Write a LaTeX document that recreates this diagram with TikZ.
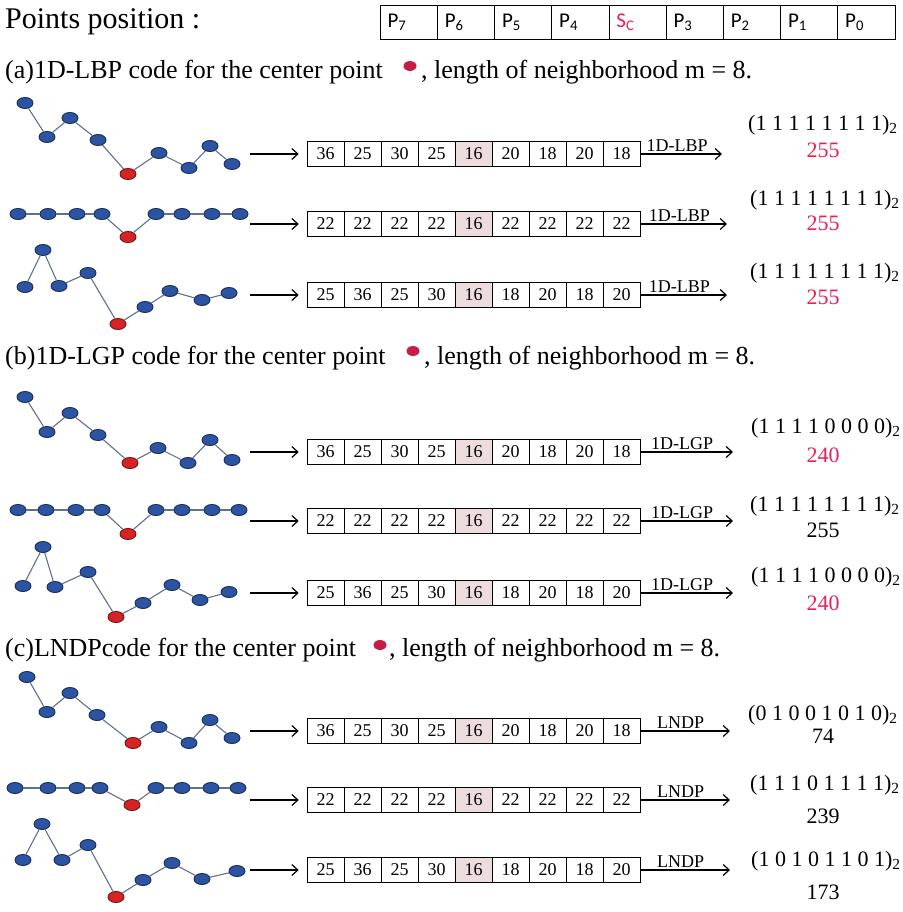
\documentclass[tikz,border=0pt]{standalone}
\usepackage{fontspec}
\setmainfont{Liberation Serif}
\newfontfamily\pfont{Carlito}
\usetikzlibrary{arrows.meta,positioning,shapes.geometric}

\definecolor{ptblue}{RGB}{44,84,162}
\definecolor{ptred}{RGB}{214,36,36}
\definecolor{codered}{RGB}{232,32,90}
\definecolor{dotred}{RGB}{196,30,72}
\definecolor{cellpink}{RGB}{236,220,222}
\definecolor{linkgray}{RGB}{96,112,140}

\begin{document}
\begin{tikzpicture}[x=1pt,y=-1pt,>={Straight Barb[length=6pt,width=11pt]},
  pt/.style={ellipse,line width=0.9pt,minimum width=16pt,minimum height=11pt,inner sep=0pt},
  link/.style={draw=linkgray,line width=1.1pt},
  cell/.style={draw,line width=0.6pt,minimum width=37pt,minimum height=25pt,inner sep=0pt,font=\fontsize{18}{18}\selectfont},
  hcell/.style={draw,line width=0.6pt,minimum height=34pt,text width=42pt,inner xsep=7.6pt,inner ysep=0pt,align=left,font=\pfont\fontsize{21}{21}\selectfont},
  ttl/.style={anchor=base west,inner sep=0pt,font=\fontsize{26}{26}\selectfont},
  hdot/.style={ellipse,fill=dotred,minimum width=13pt,minimum height=10pt,inner sep=0pt},
  res/.style={inner sep=0pt,font=\fontsize{22}{22}\selectfont},
  oplab/.style={above,inner sep=2pt,font=\fontsize{18}{18}\selectfont},
  flow/.style={->,line width=1.2pt}]
\useasboundingbox (0,0) rectangle (902,912);

% header
\node[anchor=base west,inner sep=0pt,font=\fontsize{30}{30}\selectfont] (hdr) at (5,29) {Points position :};
\foreach \lab [count=\i] in {P\textsubscript{7},P\textsubscript{6},P\textsubscript{5},P\textsubscript{4},{\color{codered}S\textsubscript{C}},P\textsubscript{3},P\textsubscript{2},P\textsubscript{1},P\textsubscript{0}}
  \node[hcell] (h\i) at ({380+57.2*(\i-0.5)},22) {\lab};

% section titles
\node[ttl] (ta) at (5,79) {(a)1D-LBP code for the center point};
\node[hdot] (ta-dot) at (410,66) {};
\node[ttl] (ta-rest) at (421,79) {, length of neighborhood m = 8.};
\node[ttl] (tb) at (5,364) {(b)1D-LGP code for the center point};
\node[hdot] (tb-dot) at (413,351) {};
\node[ttl] (tb-rest) at (424,364) {, length of neighborhood m = 8.};
\node[ttl] (tc) at (5,656) {(c)LNDPcode for the center point};
\node[hdot] (tc-dot) at (380,645) {};
\node[ttl] (tc-rest) at (389,656) {, length of neighborhood m = 8.};

% signals
\foreach \r/\pts in {
  a1/{25/103/ptblue,47/137/ptblue,70/118/ptblue,98/140/ptblue,128/174/ptred,159/153/ptblue,189/168/ptblue,210/146/ptblue,232/164/ptblue},
  a2/{18/214/ptblue,48/214/ptblue,77/214/ptblue,102/214/ptblue,128/237/ptred,156/214/ptblue,182/214/ptblue,212/214/ptblue,240/214/ptblue},
  a3/{25/287/ptblue,43/250/ptblue,59/286/ptblue,88/273/ptblue,118/324/ptred,145/307/ptblue,170/291/ptblue,202/300/ptblue,229/293/ptblue},
  b1/{25/397/ptblue,47/432/ptblue,70/413/ptblue,98/435/ptblue,130/463/ptred,158/448/ptblue,188/463/ptblue,210/440/ptblue,232/460/ptblue},
  b2/{18/510/ptblue,46/510/ptblue,76/510/ptblue,102/510/ptblue,128/534/ptred,156/510/ptblue,182/510/ptblue,212/510/ptblue,239/510/ptblue},
  b3/{23/586/ptblue,43/547/ptblue,55/587/ptblue,88/572/ptblue,116/617/ptred,143/603/ptblue,172/585/ptblue,200/600/ptblue,229/592/ptblue},
  c1/{27/677/ptblue,47/712/ptblue,70/693/ptblue,97/715/ptblue,133/743/ptred,159/727/ptblue,189/743/ptblue,210/720/ptblue,232/738/ptblue},
  c2/{15/788/ptblue,48/788/ptblue,77/788/ptblue,100/788/ptblue,132/805/ptred,156/788/ptblue,182/788/ptblue,211/788/ptblue,238/788/ptblue},
  c3/{23/860/ptblue,42/824/ptblue,62/860/ptblue,88/845/ptblue,116/897/ptred,143/880/ptblue,172/863/ptblue,202/879/ptblue,237/871/ptblue}}
{
  \foreach \x/\y/\c [count=\i] in \pts
    \node[pt,fill=\c,draw=\c!55!black] (\r-p\i) at (\x,\y) {};
  \foreach \i [count=\j from 2] in {1,...,8}
    \draw[link] (\r-p\i) -- (\r-p\j);
}

% value rows
\foreach \r/\yb/\vals/\op/\xe in {
  a1/154/{36,25,30,25,16,20,18,20,18}/1D-LBP/722,
  a2/224/{22,22,22,22,16,22,22,22,22}/1D-LBP/727,
  a3/295/{25,36,25,30,16,18,20,18,20}/1D-LBP/727,
  b1/452/{36,25,30,25,16,20,18,20,18}/1D-LGP/733,
  b2/521/{22,22,22,22,16,22,22,22,22}/1D-LGP/733,
  b3/593/{25,36,25,30,16,18,20,18,20}/1D-LGP/733,
  c1/731/{36,25,30,25,16,20,18,20,18}/LNDP/730,
  c2/800/{22,22,22,22,16,22,22,22,22}/LNDP/730,
  c3/870/{25,36,25,30,16,18,20,18,20}/LNDP/730}
{
  \foreach \v [count=\i] in \vals {
    \pgfmathtruncatemacro\pk{ifthenelse(\i==5,100,0)}
    \node[cell,fill=cellpink!\pk!white] (\r-c\i) at ({307+37*(\i-0.5)},\yb) {\v};
  }
  \coordinate (\r-in) at (250,\yb);
  \coordinate (\r-out) at (\xe,\yb);
  \draw[flow,shorten >=8pt] (\r-in) -- (\r-c1);
  \draw[flow] (\r-c9) -- node[oplab,pos=0.45] {\op} (\r-out);
}

% codes
\foreach \r/\xr/\yr/\code/\yv/\num/\col in {
  a1/748/125/{(1 1 1 1 1 1 1 1)}/150/255/codered,
  a2/750/200/{(1 1 1 1 1 1 1 1)}/223/255/codered,
  a3/750/273/{(1 1 1 1 1 1 1 1)}/297/255/codered,
  b1/751/428/{(1 1 1 1 0 0 0 0)}/455/240/codered,
  b2/750/506/{(1 1 1 1 1 1 1 1)}/530/255/black,
  b3/751/577/{(1 1 1 1 0 0 0 0)}/603/240/codered,
  c1/748/715/{(0 1 0 0 1 0 1 0)}/736/74/black,
  c2/750/785/{(1 1 1 0 1 1 1 1)}/816/239/black,
  c3/751/861/{(1 0 1 0 1 1 0 1)}/892/173/black}
{
  \node[res,anchor=west] (\r-code) at (\xr,\yr) {\code\textsubscript{2}};
  \node[res,text=\col] (\r-val) at (823,\yv) {\num};
}
\end{tikzpicture}
\end{document}
